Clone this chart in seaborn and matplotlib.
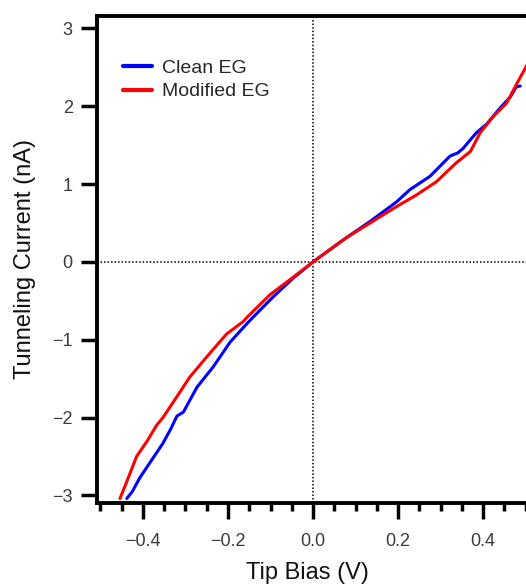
import numpy as np
import pandas as pd
import seaborn as sns
import matplotlib.pyplot as plt
from matplotlib.ticker import MultipleLocator

# I-V curves
clean_bias = [-0.438, -0.425, -0.407, -0.38, -0.353, -0.335, -0.32, -0.305, -0.29, -0.273,
              -0.235, -0.195, -0.155, -0.141, -0.094, -0.047, 0.0, 0.04, 0.078, 0.134,
              0.196, 0.228, 0.275, 0.322, 0.34, 0.353, 0.384, 0.408, 0.44, 0.464, 0.478, 0.487]
clean_current = [-3.04, -2.95, -2.77, -2.55, -2.33, -2.15, -1.98, -1.93, -1.78, -1.61,
                 -1.35, -1.03, -0.79, -0.71, -0.45, -0.21, 0.0, 0.16, 0.31, 0.52,
                 0.77, 0.93, 1.10, 1.36, 1.40, 1.46, 1.66, 1.77, 1.98, 2.12, 2.25, 2.26]

mod_bias = [-0.454, -0.44, -0.415, -0.39, -0.368, -0.353, -0.32, -0.29, -0.25, -0.212,
            -0.202, -0.165, -0.155, -0.101, -0.05, 0.0, 0.04, 0.078, 0.134, 0.196,
            0.243, 0.29, 0.336, 0.37, 0.393, 0.424, 0.455, 0.478, 0.50, 0.51]
mod_current = [-3.04, -2.85, -2.5, -2.3, -2.1, -2.0, -1.73, -1.48, -1.22, -0.98,
               -0.92, -0.77, -0.71, -0.42, -0.21, 0.0, 0.16, 0.31, 0.50, 0.71,
               0.86, 1.03, 1.27, 1.42, 1.66, 1.87, 2.04, 2.28, 2.5, 2.6]

LABELS = ["Clean EG", "Modified EG"]
COLORS = {"Clean EG": "#0000ff", "Modified EG": "#ff0000"}

df = pd.concat([
    pd.DataFrame({"bias": clean_bias, "current": clean_current, "sample": LABELS[0]}),
    pd.DataFrame({"bias": mod_bias, "current": mod_current, "sample": LABELS[1]}),
])

sns.set_style("white")
plt.rcParams['font.family'] = ['Liberation Sans', 'DejaVu Sans']

fig = plt.figure(figsize=(5.26, 5.85), dpi=100)
ax = fig.add_axes([0.1844, 0.1402, 0.8555, 0.8325])

# zero reference lines
ax.axhline(0, color="black", lw=1.1, ls=(0, (1, 1.3)), zorder=1)
ax.axvline(0, color="black", lw=1.1, ls=(0, (1, 1.3)), zorder=1)

sns.lineplot(data=df, x="bias", y="current", hue="sample", palette=COLORS,
             sort=False, estimator=None, lw=2.2, ax=ax, zorder=3)

ax.set_xlim(-0.508, 0.55)
ax.set_ylim(-3.097, 3.16)
ax.xaxis.set_major_locator(MultipleLocator(0.2))
ax.xaxis.set_minor_locator(MultipleLocator(0.05))
ax.yaxis.set_major_locator(MultipleLocator(1))
ax.xaxis.set_major_formatter(lambda v, p: f"{v:.1f}".replace("-", "\u2212"))
ax.yaxis.set_major_formatter(lambda v, p: f"{v:.0f}".replace("-", "\u2212"))

for s in ax.spines.values():
    s.set_linewidth(2.8)
    s.set_color("black")

ax.tick_params(axis="both", which="major", direction="out", length=11.5, width=2.5,
               color="black", labelsize=13, labelcolor="#3a3a3a", pad=6,
               left=True, bottom=True)
ax.tick_params(axis="x", which="major", pad=10)
ax.tick_params(axis="x", which="minor", direction="out", length=6, width=2.5,
               color="black", bottom=True)

ax.set_xlabel("Tip Bias (V)", fontsize=17, color="#111111")
ax.set_ylabel("Tunneling Current (nA)", fontsize=17, color="#111111")
ax.xaxis.set_label_coords(0.4667, -0.121)
ax.yaxis.set_label_coords(-0.135, 0.5)

leg = ax.legend(frameon=False, loc="upper left", bbox_to_anchor=(0.04, 0.927),
                fontsize=14, handlelength=1.5, handletextpad=0.5, labelspacing=0.3,
                borderaxespad=0)
for h in leg.get_lines():
    h.set_linewidth(3)

fig.savefig("out.png", dpi=100)
